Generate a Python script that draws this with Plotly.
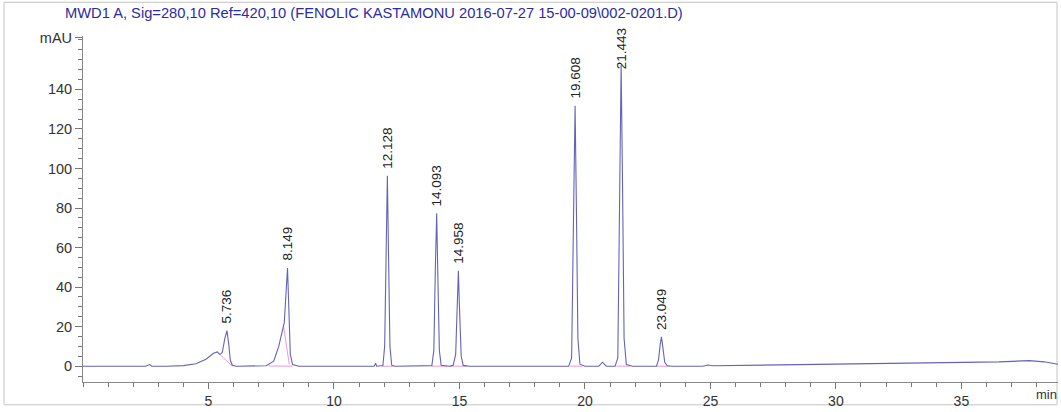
import plotly.graph_objects as go

# Chromatogram trace (time in min, signal in mAU)
time_min = [0.0, 2.5, 2.65, 2.75, 3.3, 4.0, 4.5, 4.9, 5.2, 5.35, 5.45, 5.55, 5.65, 5.736, 5.8, 5.87, 5.95, 6.1,
            7.3, 7.6, 7.8, 7.95, 8.02, 8.08, 8.149, 8.2, 8.26, 8.35, 8.6,
            11.6, 11.66, 11.7, 11.95, 12.02, 12.08, 12.128, 12.17, 12.23, 12.3, 12.45,
            13.9, 13.98, 14.04, 14.093, 14.14, 14.2, 14.27, 14.6,
            14.75, 14.85, 14.91, 14.958, 15.0, 15.07, 15.15, 15.4,
            19.35, 19.47, 19.55, 19.608, 19.66, 19.72, 19.8, 20.0,
            20.55, 20.7, 20.85, 21.2, 21.31, 21.39, 21.443, 21.5, 21.56, 21.65, 21.9,
            22.85, 22.93, 23.0, 23.049, 23.1, 23.18, 23.28, 23.5,
            24.7, 24.9, 25.1, 27.0, 30.0, 33.0, 35.0, 36.5, 37.7, 38.3, 38.85]
signal_mau = [0.0, 0.0, 0.8, 0.0, 0.0, 0.3, 1.2, 3.5, 6.5, 7.2, 6.0, 7.0, 14.0, 18.0, 12.0, 3.0, 0.5, 0.0,
              0.2, 2.5, 10.0, 19.0, 22.0, 35.0, 49.7, 30.0, 6.0, 0.8, 0.0,
              0.0, 1.5, 0.0, 0.3, 10.0, 62.0, 96.3, 60.0, 10.0, 0.5, 0.0,
              0.3, 8.0, 50.0, 77.3, 45.0, 8.0, 0.5, 0.0,
              0.5, 6.0, 30.0, 48.2, 30.0, 5.0, 0.4, 0.0,
              0.0, 4.0, 80.0, 131.7, 80.0, 14.0, 1.0, 0.0,
              0.0, 2.0, 0.0, 0.0, 4.0, 90.0, 152.5, 90.0, 14.0, 0.8, 0.0,
              0.0, 3.0, 11.0, 14.8, 10.0, 2.0, 0.2, 0.0,
              0.0, 0.6, 0.2, 0.5, 1.0, 1.3, 1.6, 2.2, 2.8, 2.2, 1.0]

# Integration baselines / drop lines (pink), segments separated by None
base_t = [5.45, 5.95, None, 7.4, 8.35, None, 7.98, 8.22, None, 11.9, 12.4, None,
          13.9, 14.5, None, 14.6, 15.3, None, 19.4, 19.9, None, 21.25, 21.8, None, 22.85, 23.4]
base_y = [6.0, 0.0, None, 0.1, 0.0, None, 21.0, 1.0, None, 0.0, 0.0, None,
          0.0, 0.0, None, 0.0, 0.0, None, 0.0, 0.0, None, 0.0, 0.0, None, 0.0, 0.0]

peak_rt = [5.736, 8.149, 12.128, 14.093, 14.958, 19.608, 21.443, 23.049]
peak_height = [18.0, 49.7, 96.3, 77.3, 48.2, 131.7, 152.5, 14.8]
peak_labels = ["5.736", "8.149", "12.128", "14.093", "14.958", "19.608", "21.443", "23.049"]

y_tickvals = [0, 20, 40, 60, 80, 100, 120, 140, 166]
y_ticktext = ["0", "20", "40", "60", "80", "100", "120", "140", "mAU"]
x_tickvals = [5, 10, 15, 20, 25, 30, 35]

title_text = "MWD1 A, Sig=280,10 Ref=420,10 (FENOLIC KASTAMONU 2016-07-27 15-00-09\\002-0201.D)"

fig = go.Figure()
fig.add_trace(go.Scatter(x=base_t, y=base_y, mode="lines",
                         line=dict(color="#e79ad8", width=1), hoverinfo="skip", showlegend=False))
fig.add_trace(go.Scatter(x=time_min, y=signal_mau, mode="lines",
                         line=dict(color="#6464b6", width=1.1), showlegend=False))

LABEL_CAP = 149  # labels cannot rise above the top of the frame
for rt, h, lab in zip(peak_rt, peak_height, peak_labels):
    fig.add_annotation(x=rt, y=min(h + 2.5, LABEL_CAP), text=lab, textangle=-90, showarrow=False,
                       xanchor="center", yanchor="bottom", yshift=0,
                       font=dict(family="Liberation Sans", size=13.5, color="#222222"))

fig.add_annotation(x=38.4, y=-13 / 349, xref="x", yref="paper", yanchor="middle", text="min",
                   showarrow=False, font=dict(family="Liberation Sans", size=13, color="#333333"))

fig.update_layout(
    width=1061, height=412,
    margin=dict(l=83, r=3, t=36, b=27),
    paper_bgcolor="white", plot_bgcolor="white",
    font=dict(family="Liberation Sans", size=14, color="#333333"),
    title=dict(text=title_text, x=65 / 1061, xanchor="left", y=1 - 13 / 412, yanchor="middle",
               font=dict(family="Liberation Sans", size=14.7, color="#2b2ba6")),
    xaxis=dict(range=[0, 38.85], tickvals=x_tickvals, ticks="outside", ticklen=6, tickcolor="#777",
               showline=True, linecolor="#888", linewidth=1, showgrid=False, zeroline=False,
               minor=dict(dtick=1, tick0=0, ticks="outside", ticklen=4, tickcolor="#777"),
               tickfont=dict(size=14, color="#333")),
    yaxis=dict(range=[-8, 167], tickvals=y_tickvals, ticktext=y_ticktext, ticks="outside", ticklen=7,
               tickcolor="#777", showline=True, linecolor="#888", linewidth=1, showgrid=False,
               zeroline=False, minor=dict(dtick=5, tick0=0, ticks="outside", ticklen=4, tickcolor="#777"),
               tickfont=dict(size=14.5, color="#333")),
)

fig.add_shape(type="rect", xref="paper", yref="paper",
              x0=(4 - 83) / 975, x1=(1057 - 83) / 975, y0=-(408 - 385) / 349, y1=1 + (36 - 2) / 349,
              line=dict(color="#c4c4c4", width=1), fillcolor="rgba(0,0,0,0)", layer="below")

fig.write_html("out.html")
